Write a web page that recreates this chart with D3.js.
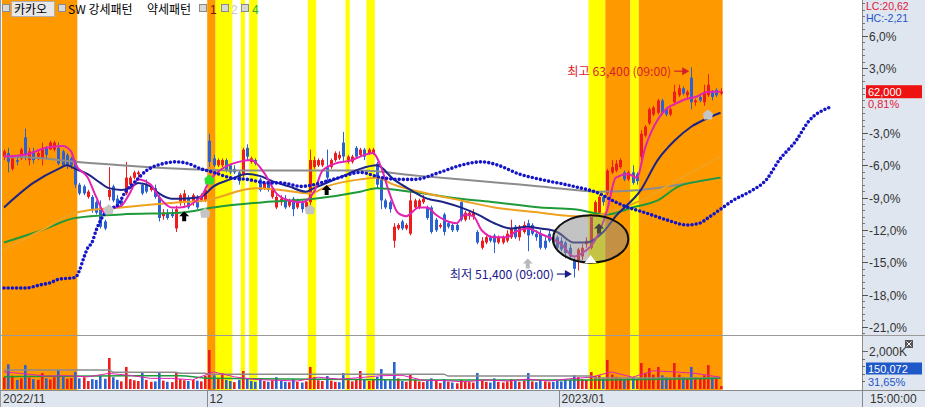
<!DOCTYPE html>
<html><head><meta charset="utf-8">
<script src="https://cdn.jsdelivr.net/npm/d3@7"></script>
<style>body{margin:0;background:#fff;overflow:hidden}svg{display:block}</style>
</head><body>
<svg id="c" width="925" height="407"></svg>
<script>
// ---------------- DATA ----------------
const basePrice = 61500; // previous close (0%)
const openP = [
58300,58500,57600,58100,58200,59400,58100,58600,58300,58200,
58800,58700,58700,58800,58600,58400,58200,58000,56700,56600,
56000,56000,55700,55400,54600,56000,56600,55900,55800,56200,
56700,57100,57300,56700,56700,56400,56500,56000,54900,55100,
55100,54200,55700,55700,55900,55700,56000,55800,55800,59200,
58200,57800,57800,58100,57800,57600,57400,57300,58800,58000,
58100,57000,56500,56800,56000,55400,55700,55900,55500,55900,
55400,55700,55400,55700,57700,57800,57800,57700,57700,58100,
58200,59100,58000,58000,58800,58400,58700,58500,58500,57900,
57000,55800,55700,53500,54200,54600,54200,53900,55400,55400,
55700,55400,55400,54700,54300,55000,54500,54400,54400,55700,
54700,54900,54900,54000,53100,53400,53700,53800,53400,53400,
53500,53700,54300,53700,54000,54500,54400,53900,53900,53500,
53900,53700,53700,53500,53400,53100,52400,52400,52600,53300,
53100,55100,55100,56000,56200,57400,57500,57700,57400,57000,
57400,57300,58300,59500,60200,60700,60800,61500,61000,60700,
61400,61800,62200,61800,62800,61400,61700,61400,61800,62000,
62100,61900];
const closeP = [
58600,58000,58200,58000,58700,58400,58600,58100,58500,58800,
58400,59100,59100,57900,57800,57800,57800,56700,56200,56200,
56300,55300,55100,54300,54200,56400,55800,55400,55500,57100,
57100,57400,57400,56200,56300,56600,56000,54800,55100,54800,
54900,55300,56100,56200,55400,56100,55400,56100,56400,58000,
57800,58100,58100,57500,57400,57400,56900,58700,58300,58200,
57900,56400,56800,56400,56500,56000,55900,55400,55800,55300,
55800,55300,55700,58100,58100,58100,58100,57100,58100,58500,
58400,58300,58300,58300,58300,58700,58300,58700,58700,56700,
55800,55400,55300,54300,54400,54200,54400,55800,55800,55800,
55900,54800,54000,54100,54400,54000,54300,54100,54100,54700,
55100,55100,55100,53400,53500,53700,53500,53400,53700,53700,
53900,54200,53700,54300,54400,53800,53900,53700,53100,53100,
53500,53400,53100,53000,52800,52600,51900,53000,53100,53500,
54900,55700,56000,55700,57500,57700,57900,58100,57000,57400,
56800,56900,59600,60000,61000,61100,61500,60800,60700,61000,
62000,62200,61900,62000,61400,61500,61500,62000,62400,61700,
61800,62000];
const highP = [
58700,58800,58400,58300,58800,59900,58800,58800,58700,59100,
58900,59200,59200,59100,58700,58500,58300,58100,56800,56700,
56400,56100,55800,55800,54700,57700,56700,56100,55900,58000,
57200,57500,57500,56800,57000,56700,56700,56100,55300,55300,
55300,55500,56200,56400,56100,56200,56100,56200,56500,59600,
58400,58200,58200,58200,57900,57800,57500,58800,59000,58300,
58200,57100,56900,56900,56600,56100,56100,56100,55900,56000,
55900,55800,55800,58700,58300,58200,58200,58700,58200,58600,
58600,59700,58400,58400,58900,58800,58800,58800,58800,58000,
57100,55900,55800,54500,54500,54700,54500,56400,55900,55900,
56100,55500,55500,54800,54500,55100,54600,54500,54500,55800,
55200,55200,55300,54100,53700,53800,53800,53900,53800,53800,
54100,54700,54400,54400,54600,54700,54500,54100,54100,53700,
54100,53800,53800,53700,53500,53300,52500,53100,53300,53700,
55000,55800,56100,56100,57600,58100,58100,58200,57500,57500,
57800,57400,59800,60100,61100,61200,61600,61600,61100,61100,
62400,62400,62300,62100,63400,61600,61800,62400,63000,62100,
62200,62200];
const lowP = [
58100,57400,57500,57800,58100,58100,57800,57900,58100,57800,
58200,58700,58600,57800,57700,57600,57600,56500,56100,56100,
55900,55100,55000,54200,54100,55800,55700,55400,55400,56100,
56600,57000,57100,56100,56200,56300,55900,54600,54700,54700,
54800,54000,55500,55500,55300,55500,55300,55700,55700,57700,
57700,57700,57700,57400,57300,57300,56700,57100,58100,57900,
57800,56300,56400,56300,55900,55300,55500,55300,55400,54900,
55300,55100,55300,55400,57600,57700,57700,56800,57600,58000,
58100,58000,57900,57900,58200,58300,58100,58400,58400,56500,
55300,55300,55100,53100,54100,54100,54100,53800,55300,55300,
55600,54700,53900,54000,54200,53800,54200,54000,54000,54600,
54600,54700,54700,53300,53000,53300,53400,52800,53300,53300,
53400,53600,53600,53500,53900,52900,53800,53500,53000,53000,
53400,53300,53000,52900,52500,52400,51400,51800,52400,53100,
53000,55000,55000,55500,56100,57300,57400,57600,56900,56900,
56700,56700,58100,59400,60100,60600,60700,60700,60600,60600,
61200,61700,61800,61600,61000,61200,61400,61200,61700,61500,
61700,61800];
// volume in thousands of shares
const volumeK = [
620,1300,700,480,560,1260,600,520,480,840,560,500,620,1000,640,540,580,900,
560,620,420,520,480,700,540,1630,620,480,400,1160,520,460,420,890,480,380,400,840,440,380,360,890,
520,460,420,480,440,400,700,
2050,720,520,840,480,420,360,480,950,560,420,380,
560,420,380,460,620,420,380,360,520,380,340,400,
1160,620,460,420,680,440,380,360,840,460,400,520,950,480,420,520,
640,1050,520,460,1420,560,420,380,760,480,400,360,
420,560,440,320,520,380,340,300,480,400,360,340,
840,460,380,340,560,380,340,400,520,420,380,440,840,400,360,
480,400,360,380,420,400,520,480,720,620,520,480,
890,680,720,560,1530,760,640,580,520,560,600,540,
1370,840,1100,760,1160,720,620,560,1370,760,620,540,1160,620,560,720,1260,620,560,150];

// indicator lines: [bar index, price]
const maGray = [[0,58300],[9,58200],[17,58000],[28,57800],[42,57600],[56,57500],[71,57500],[85,57500],[99,57200],[114,56900],[128,56600],[142,56300],[152,56400],[161,56700],[171,57100]];
const maGreen = [[0,53400],[9,54100],[17,54800],[28,55000],[42,55100],[50,55400],[62,55700],[74,55900],[85,56300],[89,56500],[97,56300],[109,55900],[117,55700],[128,55400],[136,55300],[144,55000],[150,55400],[156,55800],[161,56600],[166,56900],[171,57100]];
const maOrange = [[0,53000],[9,54100],[17,55100],[28,55400],[42,55700],[48,55800],[60,56500],[66,56400],[73,56200],[77,56600],[85,57000],[89,57100],[93,56700],[101,56200],[109,55800],[117,55400],[128,55100],[136,54900],[140,54900],[144,55100],[152,55800],[161,57000],[171,58300]];
const maNavy = [[0,55400],[7,56800],[13,57600],[15,57800],[17,57600],[20,57300],[23,56800],[25,56500],[28,56400],[30,56500],[32,56800],[35,56600],[37,56200],[40,55900],[42,55900],[47,56000],[50,56600],[54,57000],[58,57300],[61,57200],[64,56900],[68,56600],[72,56300],[74,56500],[78,56900],[82,57300],[85,57600],[89,57800],[93,57000],[97,56400],[101,55900],[105,55700],[109,55400],[113,55000],[117,54500],[121,54200],[125,54300],[128,54200],[132,54000],[136,53400],[139,53400],[143,54000],[146,54900],[152,56400],[156,58100],[160,59200],[164,60000],[168,60500],[171,60800]];
const maMagenta = [[0,58300],[5,58400],[10,58800],[14,58900],[16,58600],[17,57900],[20,57100],[22,56000],[24,55100],[25,55300],[28,55500],[30,56200],[32,57000],[35,56700],[37,56000],[40,55400],[42,55400],[47,56000],[49,56900],[52,57600],[56,58000],[59,58100],[62,57400],[65,56200],[68,55800],[71,55700],[74,56300],[76,57500],[79,57900],[83,58100],[85,58300],[88,58500],[90,57700],[92,56200],[94,55100],[96,54900],[99,55400],[101,55400],[103,55000],[106,54600],[108,54500],[110,55000],[112,54900],[114,54100],[117,53700],[120,53700],[122,54000],[125,54200],[128,53900],[133,53300],[136,52600],[138,52800],[141,53500],[144,55300],[146,57100],[149,57300],[151,57100],[153,58800],[156,60400],[158,61000],[161,61400],[163,61600],[165,61700],[168,62000],[171,62000]];
const shiftedDots = [[0,50800],[5,50800],[9,51000],[11,51100],[13,51300],[17,51400],[18,51800],[19,52500],[20,53100],[21,53400],[22,54100],[25,55300],[27,55500],[29,56300],[31,56800],[34,57500],[38,57900],[41,58000],[44,57900],[47,57600],[50,57400],[54,57100],[58,57000],[63,56800],[66,56800],[71,56600],[74,56700],[77,56900],[80,57100],[85,57400],[90,57100],[95,57000],[98,57000],[104,57400],[109,57800],[114,58000],[118,57800],[123,57300],[128,57000],[136,56600],[142,56200],[146,55700],[149,55400],[153,55100],[158,54700],[163,54400],[166,54500],[168,54800],[171,55300],[174,55800],[178,56300],[182,57000],[185,58100],[189,59200],[192,60300],[197,61100]];
// volume moving averages (K)
const volGray = [[0,1000],[25,1000],[26,880],[41,880],[42,830],[48,830],[49,780],[105,780],[106,680],[140,680],[141,580],[171,580]];
const volGreen = [[0,650],[30,700],[42,700],[49,560],[100,480],[140,470],[171,560]];
const volMagenta = [[0,900],[5,800],[10,680],[15,700],[20,640],[25,820],[30,720],[35,560],[40,560],[45,480],[50,900],[55,640],[60,500],[65,460],[70,420],[75,620],[80,520],[85,600],[90,700],[95,720],[100,460],[105,440],[110,380],[115,480],[120,420],[125,520],[130,420],[135,540],[140,620],[145,900],[150,620],[155,960],[160,900],[165,820],[171,620]];

// signal bands (bar index ranges)
const bandStart = [0,49,51,57,59,73,82,87,140,144,150,152];
const bandEnd   = [17,50,54,57,60,74,82,88,143,149,151,171];
const bandKind  = ['o','o','y','y','y','y','y','y','y','o','y','o'];

// markers [bar index, price]
const buyArrows = [[43,54900],[77,56400]];
const buyArrowsDim = [[142,54200]];
const grayMarks = [[25,55300],[48,55100],[73,55300],[168,60700]];
const grayUp = [[125,52200]];
const whiteTri = [[140,52400]];
const greenMarks = [[49,57000]];

// axis labels
const pctTicks = [6,3,-3,-6,-9,-12,-15,-18,-21];
const dateTickIdx = [0,48.5,132.5];
const dateTickLbl = ["2022/11","12","2023/01"];
const highInfo = {i:164, price:63400, text:"최고 63,400 (09:00)"};
const lowInfo  = {i:136, price:51400, text:"최저 51,400 (09:00)"};
const lastPrice = 62000, lastPct = "0,81%", lastVol = "150,072", volPct = "31,65%";

// ---------------- DRAW ----------------
const svg = d3.select("#c");
const W = 925, H = 407, PR = 862, MB = 335, VB = 390;
const x = d3.scaleLinear().domain([0,205]).range([4,863]);
const yPct = d3.scaleLinear().domain([6,-21]).range([35.8,326.9]);
const yP = p => yPct((p/basePrice-1)*100);
const yV = d3.scaleLinear().domain([0,2000]).range([389,351]);
const bw = x(1)-x(0);
const ORANGE = "#ff9900", YELLOW = "#ffff00", RED = "#ee1c1c", BLUE = "#2a62d4";
const FONT = "'Liberation Sans', Arial, sans-serif";
const KFONT = "'Noto Sans CJK KR', 'Noto Sans', sans-serif";

svg.append("rect").attr("width",W).attr("height",H).attr("fill","#fff");
svg.append("defs").append("clipPath").attr("id","plot").append("rect").attr("x",0).attr("y",0).attr("width",PR).attr("height",VB);
const plot = svg.append("g").attr("clip-path","url(#plot)");

// bands
plot.selectAll("rect.band").data(bandStart.map((s,k)=>({s,e:bandEnd[k],c:bandKind[k]}))).join("rect")
  .attr("x",d=>x(d.s-0.5)).attr("width",d=>x(d.e+0.5)-x(d.s-0.5))
  .attr("y",0).attr("height",VB).attr("fill",d=>d.c==='o'?ORANGE:YELLOW);

// candles
const idx = d3.range(closeP.length);
const col = i => closeP[i]>=openP[i]?RED:BLUE;
const cg = plot.append("g");
cg.selectAll("line").data(idx).join("line")
  .attr("x1",i=>Math.round(x(i))+0.5).attr("x2",i=>Math.round(x(i))+0.5)
  .attr("y1",i=>yP(highP[i])).attr("y2",i=>yP(lowP[i]))
  .attr("stroke",col).attr("stroke-width",1);
cg.selectAll("rect").data(idx).join("rect")
  .attr("x",i=>Math.round(x(i))-1).attr("width",3)
  .attr("y",i=>yP(Math.max(openP[i],closeP[i])))
  .attr("height",i=>Math.max(1,Math.abs(yP(openP[i])-yP(closeP[i]))))
  .attr("fill",col);

// lines
const ln = d3.line().x(d=>x(d[0])).y(d=>yP(d[1])).curve(d3.curveMonotoneX);
function drawLine(data,color,w){plot.append("path").attr("d",ln(data)).attr("fill","none").attr("stroke",color).attr("stroke-width",w).attr("stroke-linejoin","round");}
drawLine(maGray,"#8c8c8c",2);
drawLine(maGreen,"#1f9a3a",2);
drawLine(maOrange,"#eea21e",2);
drawLine(maNavy,"#1c2585",2);
drawLine(maMagenta,"#e322b2",2);
plot.append("path").attr("d",ln(shiftedDots)).attr("fill","none").attr("stroke","#1414c8")
  .attr("stroke-width",3.6).attr("stroke-linecap","round").attr("stroke-dasharray","0 "+bw.toFixed(2));

// markers
const arrowPath = "M0,-5L5,0L2,0L2,5L-2,5L-2,0L-5,0Z";
const housePath = "M0,-5L5,-1L4,5L-4,5L-5,-1Z";
function marks(data,path,fill,stroke){plot.append("g").selectAll("path").data(data).join("path")
  .attr("d",path).attr("transform",d=>`translate(${x(d[0])},${yP(d[1])})`).attr("fill",fill).attr("stroke",stroke||"none").attr("stroke-width",0.6);}
marks(buyArrows,arrowPath,"#000");
marks(grayMarks,housePath,"#c4c4c4");
marks(grayUp,arrowPath,"#b8b8c0");
marks(greenMarks,housePath,"#2ee02e");

// ellipse highlight
const eC = {i:140, p:53600, di:9, dp:1350};
plot.append("ellipse").attr("cx",x(eC.i)).attr("cy",yP(eC.p))
  .attr("rx",x(eC.i+eC.di)-x(eC.i)).attr("ry",yP(eC.p-eC.dp)-yP(eC.p))
  .attr("fill","rgba(135,135,135,0.5)").attr("stroke","#111").attr("stroke-width",2);
marks(buyArrowsDim,arrowPath,"#444");
marks(whiteTri,"M0,-5L6,3L-6,3Z","#fff");

// annotations
function annot(info,color,dy){
  const ax = x(info.i)-2, ay = yP(info.price)+dy;
  const g = plot.append("g");
  g.append("line").attr("x1",ax-15).attr("x2",ax-5).attr("y1",ay).attr("y2",ay).attr("stroke",color).attr("stroke-width",1.2);
  g.append("path").attr("d",`M${ax},${ay}L${ax-7},${ay-4}L${ax-7},${ay+4}Z`).attr("fill",color);
  g.append("text").attr("x",ax-18).attr("y",ay+4.5).attr("text-anchor","end")
    .attr("font-family",KFONT).attr("font-size",12).attr("fill",color)
    .attr("textLength",104).attr("lengthAdjust","spacingAndGlyphs").text(info.text);
}
annot(highInfo,"#d81e2a",4);
annot(lowInfo,"#1a1a8a",-3.5);

// volume bars (coloured by close vs previous close)
const vcol = i => (i===0 ? closeP[i]>=openP[i] : closeP[i]>=closeP[i-1]) ? RED : BLUE;
const vg = plot.append("g");
vg.selectAll("rect").data(idx).join("rect")
  .attr("x",i=>Math.round(x(i))-1).attr("width",2.6)
  .attr("y",i=>yV(volumeK[i])).attr("height",i=>yV(0)-yV(volumeK[i]))
  .attr("fill",vcol);
const lnV = d3.line().x(d=>x(d[0])).y(d=>yV(d[1]));
plot.append("path").attr("d",lnV(volGray)).attr("fill","none").attr("stroke","#8c8c8c").attr("stroke-width",1.5);
plot.append("path").attr("d",lnV.curve(d3.curveMonotoneX)(volGreen)).attr("fill","none").attr("stroke","#1f9a3a").attr("stroke-width",1.5);
plot.append("path").attr("d",lnV.curve(d3.curveLinear)(volMagenta)).attr("fill","none").attr("stroke","#e322b2").attr("stroke-width",1);

// legend row
const lg = svg.append("g").attr("font-family",KFONT).attr("font-size",12);
function sq(px){lg.append("rect").attr("x",px).attr("y",4.5).attr("width",7).attr("height",7).attr("fill","#d8d8d8").attr("stroke","#8a8a8a").attr("stroke-width",1);}
sq(2.5);
lg.append("rect").attr("x",11.5).attr("y",1.5).attr("width",43).attr("height",15).attr("fill","#e8e8e8").attr("stroke","#b0b0b0");
lg.append("text").attr("x",14).attr("y",13.5).attr("fill","#000").text("카카오");
sq(58.5);
lg.append("text").attr("x",68).attr("y",13.5).attr("fill","#000").text("SW 강세패턴");
lg.append("text").attr("x",147).attr("y",13.5).attr("fill","#000").text("약세패턴");
sq(199.5);
lg.append("text").attr("x",210).attr("y",13.5).attr("fill","#7a1a00").attr("font-family",FONT).text("1");
sq(221.5);
lg.append("text").attr("x",231).attr("y",13.5).attr("fill","#c8c8c8").attr("font-family",FONT).text("2");
sq(241.5);
lg.append("text").attr("x",252).attr("y",13.5).attr("fill","#2bb52b").attr("font-family",FONT).text("4");

// frames / axes
const AX = "#dfe6ef";
svg.append("rect").attr("x",PR).attr("y",0).attr("width",W-PR).attr("height",H).attr("fill",AX);
svg.append("rect").attr("x",0).attr("y",VB).attr("width",PR).attr("height",H-VB).attr("fill",AX);
svg.append("line").attr("x1",0).attr("x2",W).attr("y1",MB+0.5).attr("y2",MB+0.5).attr("stroke","#9a9a9a");
svg.append("line").attr("x1",0).attr("x2",W).attr("y1",VB+0.5).attr("y2",VB+0.5).attr("stroke","#8a8a8a");
svg.append("line").attr("x1",PR+0.5).attr("x2",PR+0.5).attr("y1",0).attr("y2",H).attr("stroke","#8a8a8a");
svg.append("line").attr("x1",0.5).attr("x2",0.5).attr("y1",0).attr("y2",H).attr("stroke","#9a9a9a");

const ax = svg.append("g").attr("font-family",FONT).attr("font-size",11).attr("fill","#333");
// minor ticks
d3.range(-21.6,9.01,0.6).forEach(v=>{const yy=Math.round(yPct(v))+0.5; if(yy>2&&yy<MB) ax.append("line").attr("x1",PR).attr("x2",PR+3).attr("y1",yy).attr("y2",yy).attr("stroke","#777");});
pctTicks.forEach(v=>{const yy=Math.round(yPct(v))+0.5;
  ax.append("line").attr("x1",PR).attr("x2",PR+6).attr("y1",yy).attr("y2",yy).attr("stroke","#555");
  ax.append("text").attr("x",PR+7).attr("y",yy+4).attr("font-size",12).text((v<0?"-":"")+Math.abs(v).toFixed(1).replace(".",",")+"%");});
ax.append("text").attr("x",PR+4).attr("y",9.5).attr("font-size",10.5).attr("fill","#e0203a").text("LC:20,62");
ax.append("text").attr("x",PR+4).attr("y",22).attr("font-size",10.5).attr("fill","#2255cc").text("HC:-2,21");
const ly = yP(lastPrice);
ax.append("rect").attr("x",PR+4).attr("y",ly-6.5).attr("width",56).attr("height",13).attr("fill","#ee1111");
ax.append("text").attr("x",PR+6).attr("y",ly+4).attr("fill","#fff").text(d3.format(",")(lastPrice));
ax.append("text").attr("x",PR+6).attr("y",ly+16.5).attr("fill","#e0203a").text(lastPct);
// volume axis
[400,800,1200,1600,2000].forEach(v=>{const yy=Math.round(yV(v))+0.5; ax.append("line").attr("x1",PR).attr("x2",PR+(v===2000?6:3)).attr("y1",yy).attr("y2",yy).attr("stroke","#666");});
ax.append("text").attr("x",PR+7).attr("y",yV(2000)+4.5).attr("font-size",12).text("2,000K");
ax.append("rect").attr("x",PR+4).attr("y",362.5).attr("width",56).attr("height",12).attr("fill","#1f58c8");
ax.append("text").attr("x",PR+6).attr("y",372.5).attr("fill","#fff").text(lastVol);
ax.append("text").attr("x",PR+6).attr("y",386).attr("fill","#2255cc").text(volPct);
ax.append("rect").attr("x",905).attr("y",340).attr("width",8).attr("height",8).attr("fill","#555");
ax.append("path").attr("d","M906.5,341.5L911.5,346.5M911.5,341.5L906.5,346.5").attr("stroke","#fff").attr("stroke-width",1);
// date axis
dateTickIdx.forEach((v,k)=>{const xx=k===0?1:Math.round(x(v))+0.5;
  if(k>0) ax.append("line").attr("x1",xx).attr("x2",xx).attr("y1",VB).attr("y2",H).attr("stroke","#888");
  ax.append("text").attr("x",xx+2).attr("y",403).attr("font-size",12).text(dateTickLbl[k]);});
ax.append("text").attr("x",PR+8).attr("y",403).attr("font-size",12).text("15:00:00");
</script>
</body></html>
